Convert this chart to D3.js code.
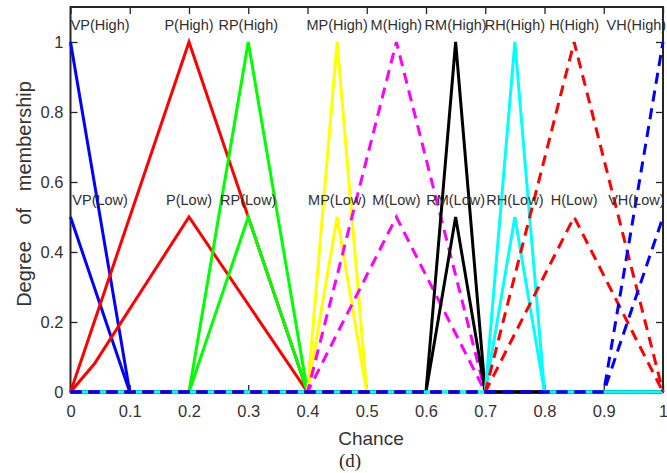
<!DOCTYPE html>
<html>
<head>
<meta charset="utf-8">
<script src="https://cdn.jsdelivr.net/npm/d3@7"></script>
<style>
  html, body { margin: 0; padding: 0; background: #fff; }
  svg { display: block; }
  text { font-family: Arial, "Liberation Sans", Helvetica, sans-serif; }
  text.caption { font-family: "Liberation Serif", "Times New Roman", "DejaVu Serif", serif; }
</style>
</head>
<body>
<svg id="chart" width="667" height="473"></svg>
<script>
// Membership functions (upper "High" and lower "Low"), as [chance, degree] vertices over [0, 1]
const vpHigh = [[0, 1], [0.1, 0], [1, 0]];
const vpLow  = [[0, 0.5], [0.1, 0], [1, 0]];
const pHigh  = [[0, 0], [0.2, 1], [0.4, 0], [1, 0]];
const pLow   = [[0, 0], [0.04, 0.08], [0.2, 0.5], [0.4, 0], [1, 0]];
const rpHigh = [[0, 0], [0.2, 0], [0.3, 1], [0.4, 0], [1, 0]];
const rpLow  = [[0, 0], [0.2, 0], [0.3, 0.5], [0.4, 0], [1, 0]];
const mpHigh = [[0, 0], [0.4, 0], [0.45, 1], [0.5, 0], [1, 0]];
const mpLow  = [[0, 0], [0.4, 0], [0.45, 0.5], [0.5, 0], [1, 0]];
const mHigh  = [[0, 0], [0.4, 0], [0.55, 1], [0.7, 0], [1, 0]];
const mLow   = [[0, 0], [0.4, 0], [0.55, 0.5], [0.7, 0], [1, 0]];
const rmHigh = [[0, 0], [0.6, 0], [0.65, 1], [0.7, 0], [1, 0]];
const rmLow  = [[0, 0], [0.6, 0], [0.65, 0.5], [0.7, 0], [1, 0]];
const rhHigh = [[0, 0], [0.7, 0], [0.75, 1], [0.8, 0], [1, 0]];
const rhLow  = [[0, 0], [0.7, 0], [0.75, 0.5], [0.8, 0], [1, 0]];
const hHigh  = [[0, 0], [0.7, 0], [0.85, 1], [1, 0]];
const hLow   = [[0, 0], [0.7, 0], [0.85, 0.5], [1, 0]];
const vhHigh = [[0, 0], [0.9, 0], [1, 1]];
const vhLow  = [[0, 0], [0.9, 0], [1, 0.5]];

// Linguistic terms and where their names sit along the chance axis
const terms   = ["VP", "P", "RP", "MP", "M", "RM", "RH", "H", "VH"];
const labelAt = [0.05, 0.2, 0.3, 0.45, 0.55, 0.65, 0.75, 0.85, 0.955];

// Axis ticks
const xTicks = [0, 0.1, 0.2, 0.3, 0.4, 0.5, 0.6, 0.7, 0.8, 0.9, 1];
const xTickLabels = ["0", "0.1", "0.2", "0.3", "0.4", "0.5", "0.6", "0.7", "0.8", "0.9", "1"];
const yTicks = [0, 0.2, 0.4, 0.6, 0.8, 1];
const yTickLabels = ["0", "0.2", "0.4", "0.6", "0.8", "1"];

(function draw() {
  // Line styles per term
  const styles = [
    { color: "#0000ff", dash: null },
    { color: "#ff0000", dash: null },
    { color: "#00ff00", dash: null },
    { color: "#ffff00", dash: null },
    { color: "#ff00ff", dash: "11,7" },
    { color: "#000000", dash: null },
    { color: "#00ffff", dash: null },
    { color: "#ff0000", dash: "11,7" },
    { color: "#0000ff", dash: "11,7" }
  ];
  const pairs = [
    [vpHigh, vpLow], [pHigh, pLow], [rpHigh, rpLow], [mpHigh, mpLow], [mHigh, mLow],
    [rmHigh, rmLow], [rhHigh, rhLow], [hHigh, hLow], [vhHigh, vhLow]
  ];
  const series = [];
  pairs.forEach((p, i) => {
    series.push({ pts: p[0], ...styles[i] });
    series.push({ pts: p[1], ...styles[i] });
  });

  const svg = d3.select("#chart");
  const pL = 70.5, pR = 663, pT = 7, pB = 392;
  const x = d3.scaleLinear().domain([0, 1]).range([pL, pR]);
  const y = d3.scaleLinear().domain([0, 1.1]).range([pB, pT]);
  const ink = "#262626";

  // Axes box
  svg.append("rect")
    .attr("x", pL).attr("y", pT)
    .attr("width", pR - pL).attr("height", pB - pT)
    .attr("fill", "none").attr("stroke", ink).attr("stroke-width", 2);

  // Axes with inward ticks
  const fx = d => xTickLabels[xTicks.indexOf(d)];
  const fy = d => yTickLabels[yTicks.indexOf(d)];
  function style(g) {
    g.select(".domain").remove();
    g.selectAll(".tick line").attr("stroke", ink).attr("stroke-width", 1.3);
    g.selectAll(".tick text").attr("fill", "#333").attr("font-size", 16.5)
      .attr("font-family", 'Arial, "Liberation Sans", Helvetica, sans-serif');
  }
  svg.append("g").attr("transform", `translate(0,${pB})`)
    .call(d3.axisBottom(x).tickValues(xTicks).tickFormat(fx).tickSizeInner(-7).tickSizeOuter(0).tickPadding(13))
    .call(style);
  svg.append("g").attr("transform", `translate(0,${pT})`)
    .call(d3.axisTop(x).tickValues(xTicks).tickFormat("").tickSizeInner(-7).tickSizeOuter(0))
    .call(style);
  svg.append("g").attr("transform", `translate(${pL},0)`)
    .call(d3.axisLeft(y).tickValues(yTicks).tickFormat(fy).tickSizeInner(-7).tickSizeOuter(0).tickPadding(7))
    .call(style);
  svg.append("g").attr("transform", `translate(${pR},0)`)
    .call(d3.axisRight(y).tickValues(yTicks).tickFormat("").tickSizeInner(-7).tickSizeOuter(0))
    .call(style);

  // Curves, drawn over the axes
  const line = d3.line().x(d => x(d[0])).y(d => y(d[1]));
  svg.append("g")
    .selectAll("path")
    .data(series)
    .join("path")
    .attr("d", d => line(d.pts))
    .attr("fill", "none")
    .attr("stroke", d => d.color)
    .attr("stroke-width", 3)
    .attr("stroke-linejoin", "miter")
    .attr("stroke-dasharray", d => d.dash);

  // Term names above the upper and lower peaks
  const labels = svg.append("g")
    .attr("font-size", 14.5)
    .attr("fill", "#303030")
    .attr("text-anchor", "middle");
  terms.forEach((t, i) => {
    labels.append("text").attr("x", x(labelAt[i])).attr("y", y(1.05)).attr("dy", "0.35em").text(t + "(High)");
    labels.append("text").attr("x", x(labelAt[i])).attr("y", y(0.55)).attr("dy", "0.35em").text(t + "(Low)");
  });

  // Axis titles
  svg.append("text")
    .attr("x", 371).attr("y", 445)
    .attr("text-anchor", "middle").attr("font-size", 19).attr("fill", "#333")
    .text("Chance");
  svg.append("text")
    .attr("transform", "translate(31,194) rotate(-90)")
    .attr("text-anchor", "middle").attr("font-size", 20).attr("fill", "#333")
    .style("white-space", "pre")
    .text("Degree   of   membership");

  // Panel caption
  svg.append("text")
    .attr("class", "caption")
    .attr("x", 350).attr("y", 467)
    .attr("text-anchor", "middle").attr("font-size", 19).attr("fill", "#2a2a2a")
    .text("(d)");
})();
</script>
</body>
</html>
